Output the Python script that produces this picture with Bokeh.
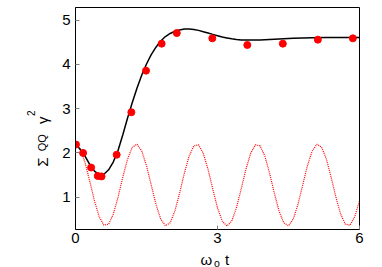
import math
from bokeh.plotting import figure
from bokeh.models import Range1d, FixedTicker
from bokeh.layouts import row, column
from bokeh.core.properties import value
from bokeh.embed import file_html
from bokeh.resources import INLINE

# ---- data ----
# red dotted reference oscillation (sampled every 0.1)
osc_t = [i / 10 for i in range(61)]
osc_y = [2.200, 2.091, 1.789, 1.366, 0.921, 0.560, 0.368, 0.390, 0.621, 1.006,
         1.455, 1.862, 2.130, 2.196, 2.044, 1.711, 1.275, 0.839, 0.506, 0.354,
         0.420, 0.688, 1.095, 1.544, 1.929, 2.160, 2.182, 1.990, 1.629, 1.184,
         0.761, 0.459, 0.350, 0.459, 0.761, 1.184, 1.629, 1.990, 2.182, 2.160,
         1.929, 1.544, 1.095, 0.688, 0.420, 0.354, 0.506, 0.839, 1.275, 1.711,
         2.044, 2.196, 2.130, 1.862, 1.455, 1.006, 0.621, 0.390, 0.368, 0.560,
         0.921]

# black solid curve
curve_t = [0.0, 0.1, 0.2, 0.3, 0.4, 0.5, 0.6, 0.7, 0.8, 0.9,
           1.0, 1.1, 1.2, 1.3, 1.4, 1.5, 1.6, 1.7, 1.8, 1.9,
           2.0, 2.1, 2.2, 2.3, 2.4, 2.5, 2.6, 2.7, 2.8, 2.9,
           3.0, 3.1, 3.2, 3.3, 3.4, 3.5, 3.6, 3.7, 3.8, 3.9,
           4.0, 4.2, 4.4, 4.6, 4.8, 5.0, 5.3, 5.6, 6.0]
curve_y = [2.21, 2.08, 1.93, 1.74, 1.59, 1.51, 1.52, 1.62, 1.80, 2.06,
           2.41, 2.79, 3.14, 3.47, 3.76, 4.01, 4.22, 4.39, 4.53, 4.63,
           4.70, 4.75, 4.78, 4.80, 4.80, 4.79, 4.77, 4.74, 4.71, 4.68,
           4.65, 4.62, 4.60, 4.58, 4.565, 4.555, 4.55, 4.55, 4.55, 4.555,
           4.56, 4.57, 4.58, 4.59, 4.60, 4.605, 4.61, 4.61, 4.61]

# red dots
dot_t = [0.01, 0.16, 0.33, 0.47, 0.55, 0.87, 1.18, 1.49, 1.82, 2.14,
         2.89, 3.63, 4.38, 5.12, 5.86]
dot_y = [2.19, 2.00, 1.67, 1.48, 1.47, 1.96, 2.92, 3.86, 4.47, 4.71,
         4.59, 4.44, 4.47, 4.56, 4.59]

x_ticks = [0, 3, 6]
y_ticks = [1, 2, 3, 4, 5]

# ---- layout (pixels) ----
W, H = 382, 267
LW = 55            # width of the strip holding the y-axis title
MH = 249           # height of the main row
BH = H - MH        # height of the strip holding the x-axis title
X0, X1 = 0, 6
Y0, Y1 = 0.27, 5.287
FW, FH = 284, 222
FL, FT = 75, 7     # page position of the frame's top-left corner

FONT = "Liberation Sans"


def blank(width, height):
    f = figure(frame_width=width, frame_height=height, output_backend="svg",
               toolbar_location=None, tools="",
               x_range=Range1d(0, width), y_range=Range1d(0, height),
               x_axis_location=None, y_axis_location=None,
               min_border=0, min_border_left=0, min_border_right=0,
               min_border_top=0, min_border_bottom=0)
    try:
        f.title = None
    except Exception:
        pass
    f.outline_line_color = None
    f.grid.visible = False
    f.background_fill_color = "white"
    f.border_fill_color = "white"
    return f


def txt(f, x, y, s, size, angle=0.0):
    f.text(x=[x], y=[y], text=[s], angle=angle,
           text_font=value(FONT), text_font_size=value(f"{size}px"),
           text_color="black", text_align="left",
           text_baseline="alphabetic")


# main plot
p = figure(output_backend="svg", toolbar_location=None, tools="",
           x_range=Range1d(X0, X1), y_range=Range1d(Y0, Y1),
           frame_width=FW, frame_height=FH,
           min_border_left=FL - LW, min_border_right=W - FL - FW,
           min_border_top=FT, min_border_bottom=MH - FT - FH)
p.background_fill_color = "white"
p.border_fill_color = "white"
p.outline_line_color = "black"
p.outline_line_width = 1
p.grid.visible = False

for ax in (p.xaxis[0], p.yaxis[0]):
    ax.major_label_text_font = FONT
    ax.major_label_text_font_size = "15px"
    ax.major_label_text_color = "black"
    ax.major_tick_in = 4
    ax.major_tick_out = 0
    ax.major_tick_line_color = "#808080"
    ax.minor_tick_line_color = None
    ax.axis_line_color = "black"
p.yaxis.major_label_standoff = 5
p.xaxis.major_label_standoff = 3

p.xaxis.ticker = FixedTicker(ticks=x_ticks)
p.yaxis.ticker = FixedTicker(ticks=y_ticks)

p.line(osc_t, osc_y, line_color="#ff0000", line_width=1.2, line_dash="1 1")
p.line(curve_t, curve_y, line_color="black", line_width=1.5)
p.scatter(dot_t, dot_y, size=7, fill_color="#ff0000", line_color="#ff0000")

# y-axis title strip: Σ_QQ γ^2 (rotated, reading upwards); positions from page top
left = blank(LW, MH)
up = math.pi / 2
txt(left, 41.7, MH - 159.3, "Σ", 15, up)
txt(left, 41.5, MH - 143.8, "QQ", 11, up)
txt(left, 41.7, MH - 116.5, "γ", 15, up)
txt(left, 30.5, MH - 108.5, "2", 10, up)

# x-axis title strip: ω_o t
bottom = blank(W, BH)
txt(bottom, 200, H - 259.0, "ω", 15)
txt(bottom, 213.5, H - 262.0, "o", 10.5)
txt(bottom, 224.5, H - 259.0, "t", 15)

layout = column(row(left, p, spacing=0), bottom, spacing=0)

open("out.html", "w").write(file_html(layout, INLINE))
